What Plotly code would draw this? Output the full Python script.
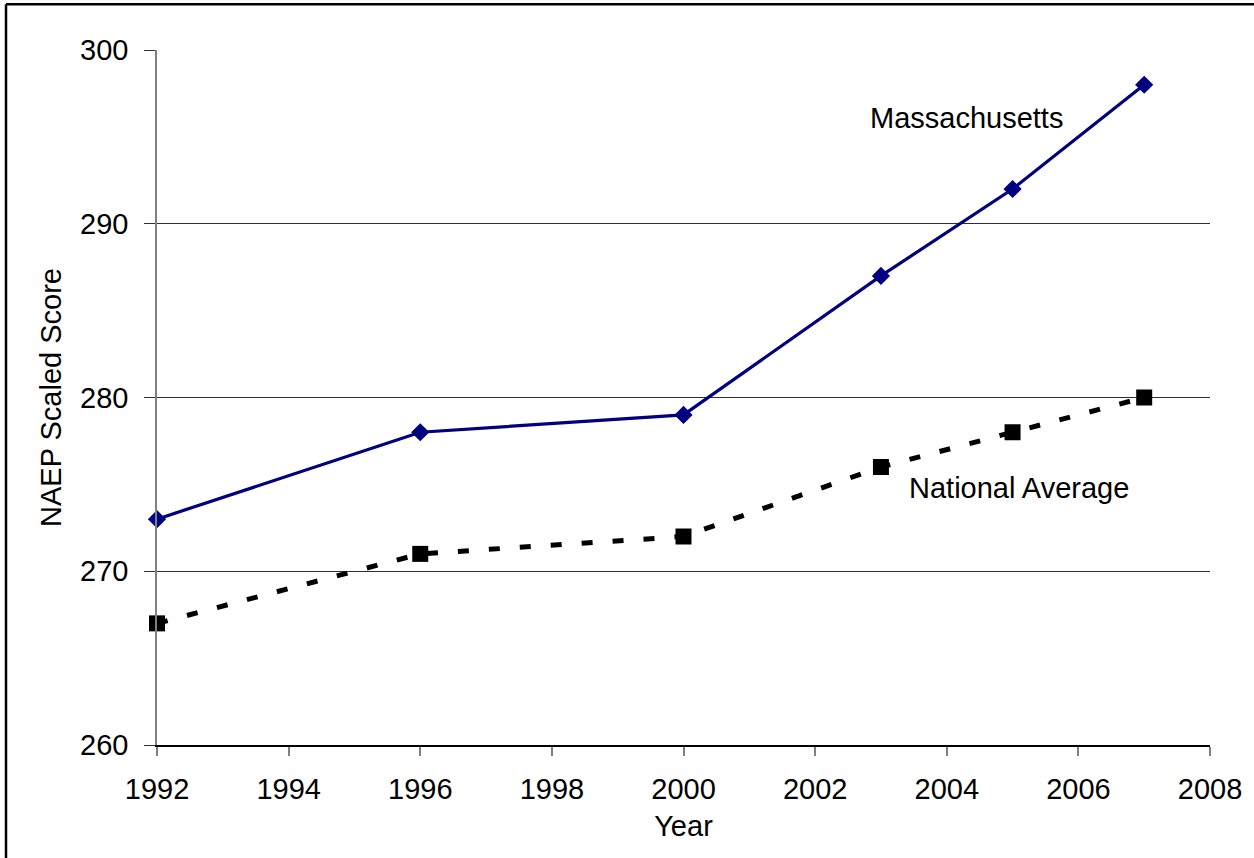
import plotly.graph_objects as go

years = [1992, 1996, 2000, 2003, 2005, 2007]
massachusetts = [273, 278, 279, 287, 292, 298]
national = [267, 271, 272, 276, 278, 280]
x_ticks = [1992, 1994, 1996, 1998, 2000, 2002, 2004, 2006, 2008]
y_ticks = [260, 270, 280, 290, 300]

FONT = "Liberation Sans, Arial, sans-serif"
FS = 29

fig = go.Figure()
fig.add_trace(go.Scatter(
    x=years, y=national, mode="lines+markers", name="National Average",
    line=dict(color="#000000", width=5, dash="11px,20px"),
    marker=dict(symbol="square", size=16, color="#000000"),
    cliponaxis=False,
))
fig.add_trace(go.Scatter(
    x=years, y=massachusetts, mode="lines+markers", name="Massachusetts",
    line=dict(color="#000080", width=3.2),
    marker=dict(symbol="diamond", size=14, color="#000080"),
    cliponaxis=False,
))

fig.add_annotation(x=2002.8, y=296.1, text="Massachusetts", showarrow=False,
                   xanchor="left", yanchor="middle",
                   font=dict(family=FONT, size=FS, color="#000000"))
fig.add_annotation(x=2003.4, y=274.8, text="National Average", showarrow=False,
                   xanchor="left", yanchor="middle",
                   font=dict(family=FONT, size=FS, color="#000000"))

# outer frame (left and top edges only, as in the cropped original)
fx0 = (6 - 157) / 1053
fx1 = (1260 - 157) / 1053
fy0 = -(870 - 745) / 695
fy1 = 1 + (50 - 4.3) / 695
fig.add_shape(type="line", xref="paper", yref="paper", x0=fx0, x1=fx0, y0=fy0, y1=fy1,
              line=dict(color="#000000", width=2.5), layer="above")
fig.add_shape(type="line", xref="paper", yref="paper", x0=fx0, x1=fx1, y0=fy1, y1=fy1,
              line=dict(color="#000000", width=2.5), layer="above")

fig.update_layout(
    width=1254, height=858,
    margin=dict(l=157, r=44, t=50, b=113),
    paper_bgcolor="#ffffff", plot_bgcolor="#ffffff",
    showlegend=False,
    font=dict(family=FONT, size=FS, color="#000000"),
    xaxis=dict(
        range=[1992, 2008], tickvals=x_ticks, ticktext=[str(v) for v in x_ticks],
        showgrid=False, zeroline=False,
        showline=True, linecolor="#000000", linewidth=1.5,
        ticks="outside", ticklen=9, tickcolor="#808080", tickwidth=1.5,
        ticklabelstandoff=8,
        tickfont=dict(family=FONT, size=FS, color="#000000"),
        title=dict(text="Year", font=dict(family=FONT, size=FS, color="#000000"), standoff=12),
    ),
    yaxis=dict(
        range=[260, 300], tickvals=y_ticks, ticktext=[str(v) for v in y_ticks],
        showgrid=True, gridcolor="#303030", gridwidth=1.2,
        zeroline=False,
        showline=True, linecolor="#808080", linewidth=1.5,
        ticks="outside", ticklen=11, tickcolor="#303030", tickwidth=1.2,
        ticklabelstandoff=10,
        tickfont=dict(family=FONT, size=FS, color="#000000"),
        title=dict(text="NAEP Scaled Score", font=dict(family=FONT, size=FS, color="#000000"), standoff=10),
    ),
)

fig.write_html("out.html", config={"displayModeBar": False},
               post_script="document.body.style.margin='0';document.body.style.overflow='hidden';")
